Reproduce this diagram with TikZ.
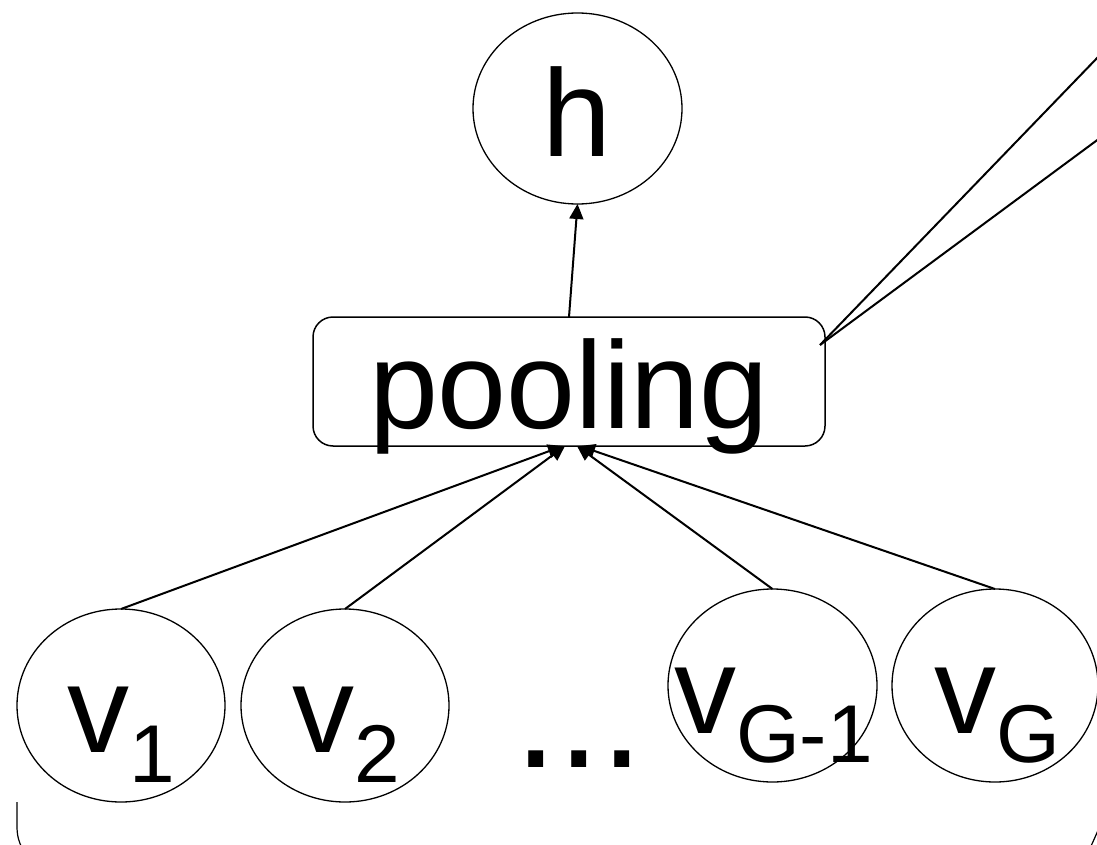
\documentclass[tikz,border=0pt]{standalone}
\usepackage{fontspec}
\setmainfont{Liberation Sans}
\usetikzlibrary{arrows.meta,shapes.geometric}
\newcommand{\labbig}{\fontsize{124}{124}\selectfont}
\newcommand{\labsub}{\fontsize{82}{82}\selectfont}
\begin{document}
\begin{tikzpicture}[x=1pt,y=-1pt,
  unit/.style={draw,ellipse,line width=1.3pt,inner sep=0pt,outer sep=0pt,
               minimum width=208pt,minimum height=193pt},
  poolbox/.style={draw,rounded corners=20pt,line width=1.5pt,inner sep=0pt,outer sep=0pt,
                  minimum width=512pt,minimum height=129pt},
  txt/.style={inner sep=0pt,outer sep=0pt,anchor=base west},
  link/.style={line width=2pt,-{Triangle[length=15pt,width=14pt]}},
  plain/.style={line width=2pt},
  thin/.style={line width=1.2pt}]
\useasboundingbox (0,0) rectangle (1097,845);
\fill[white] (0,0) rectangle (1097,845);

% shapes
\node[unit,minimum width=209pt,minimum height=191pt] (h) at (577.5,108.5) {};
\node[poolbox] (pool) at (569,381.5) {};
\node[unit] (v1) at (121,705.5) {};
\node[unit] (v2) at (345,705.5) {};
\node[unit,minimum width=209pt] (vg1) at (772.5,685.5) {};
\node[unit,minimum width=206pt] (vg) at (995,685.5) {};

% labels
\node[txt] (th) at (542,157) {\labbig h};
\node[txt] (tp) at (369,428) {\labbig pooling};
\node[txt] (t1) at (67,752) {\labbig v\raisebox{-30pt}{\labsub 1}};
\node[txt] (t2) at (292,752) {\labbig v\raisebox{-30pt}{\labsub 2}};
\node[txt] (tg1) at (674,733) {\labbig v\raisebox{-29pt}{\labsub G-1}};
\node[txt] (tg) at (934,733) {\labbig v\raisebox{-29pt}{\labsub G}};
\node[txt] (dots) at (514,767) {\fontsize{156}{156}\selectfont ...};

% connectors
\draw[link] (pool.north) -- (h.south);
\draw[link] (v1.north) -- ([xshift=-6pt]pool.south);
\draw[link] (v2.north) -- ([xshift=-4pt]pool.south);
\draw[link] (vg1.north) -- ([xshift=8pt]pool.south);
\draw[link] (vg.north) -- ([xshift=11pt]pool.south);

% lines leaving the pooling box to the upper right
\coordinate (tap) at ([shift={(-5,28)}]pool.north east);
\coordinate (far1) at (1100,55);
\coordinate (far2) at (1100,138);
\draw[plain] (tap) -- (far1);
\draw[plain] (tap) -- (far2);

% corners of the enclosing frame below
\draw[thin] (17,802) -- (17,826) .. controls (17,836) and (19,842) .. (22,848);
\draw[thin] (1090,848) .. controls (1093,842) and (1096,835) .. (1099,828);
\end{tikzpicture}
\end{document}
